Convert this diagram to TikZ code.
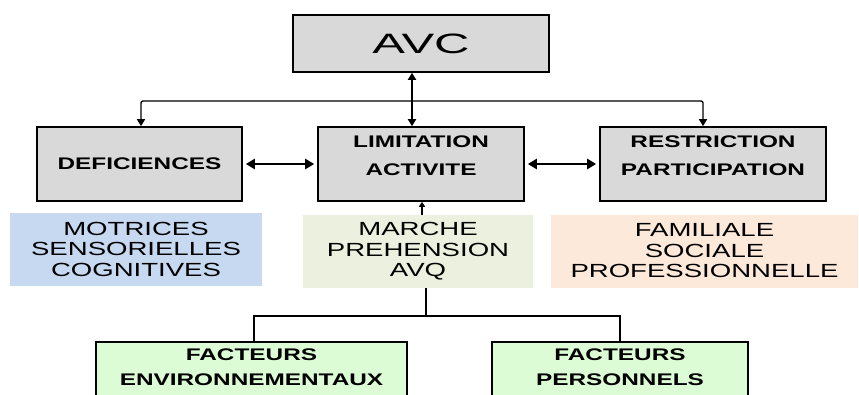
\documentclass[tikz,border=0pt]{standalone}
\usepackage{fontspec}
\setmainfont{Liberation Sans}[FakeStretch=1.45]
\newfontfamily\widefont{Liberation Sans}[FakeStretch=1.75]
\usepackage{tikz}
\usetikzlibrary{arrows.meta}
\usepackage{xcolor}
\definecolor{boxgray}{HTML}{D9D9D9}
\definecolor{softblue}{HTML}{C6D9F1}
\definecolor{softgreen}{HTML}{EBF1DE}
\definecolor{softpeach}{HTML}{FDE9D9}
\definecolor{factgreen}{HTML}{DCFCD6}

\begin{document}
\begin{tikzpicture}
    [   x=1pt, y=-1pt
    ,   grey/.style=
        {   draw
        ,   line width=1.6pt
        ,   fill=boxgray
        ,   minimum height=74pt
        ,   align=center
        ,   font=\fontsize{16.8}{28}\selectfont\bfseries
        }
    ,   soft/.style=
        {   align=center
        ,   minimum height=73pt
        ,   font=\fontsize{19}{20.5}\selectfont
        }
    ,   factor/.style=
        {   draw
        ,   line width=1.6pt
        ,   fill=factgreen
        ,   anchor=north
        ,   align=center
        ,   inner ysep=7pt
        ,   text depth=20pt
        ,   font=\fontsize{16.8}{25}\selectfont\bfseries
        }
    ,   >={Triangle[length=7pt,width=8pt]}
    ,   big/.style=
        {   <->
        ,   line width=2.8pt
        ,   >={Triangle[length=9pt,width=10pt]}
        ,   shorten <=3pt
        ,   shorten >=3pt
        }
    ]
    \useasboundingbox (0,0) rectangle (859,394);
    \clip (0,0) rectangle (859,394);

    % top level
    \node[grey, minimum width=256pt, minimum height=57pt, font=\widefont\fontsize{28}{30}\selectfont]
        (AVC) at (421,43.5) {AVC};

    % grey boxes
    \node[grey, minimum width=205pt] (DEF) at (139.5,164) {DEFICIENCES};
    \node[grey, minimum width=206pt, text depth=16pt] (LIM) at (421,164) {LIMITATION\\ACTIVITE};
    \node[grey, minimum width=226pt, text depth=16pt] (RES) at (713,164) {RESTRICTION\\PARTICIPATION};

    % coloured lists
    \node[soft, fill=softblue, minimum width=252pt] (MOT) at (136,249) {MOTRICES\\SENSORIELLES\\COGNITIVES};
    \node[soft, fill=softgreen, minimum width=230pt] (MAR) at (418,251.5) {MARCHE\\PREHENSION\\AVQ};
    \node[soft, fill=softpeach, minimum width=307pt] (FAM) at (704.5,251) {FAMILIALE\\SOCIALE\\PROFESSIONNELLE};

    % factors
    \node[factor, minimum width=311pt] (ENV) at (251.5,341) {FACTEURS\\ENVIRONNEMENTAUX};
    \node[factor, minimum width=256pt] (PERS) at (620,341) {FACTEURS\\PERSONNELS};

    % connectors
    \coordinate (bus) at (412,101);
    \coordinate (busL) at (141,101);
    \coordinate (busR) at (703,101);
    \draw[<->, line width=2pt] (AVC.south -| bus) -- (LIM.north -| bus);
    \draw[->, line width=1.4pt, rounded corners=2pt] (bus) -| (busL |- DEF.north);
    \draw[->, line width=1.4pt, rounded corners=2pt] (bus) -| (busR |- RES.north);
    \draw[big] (DEF.east) -- (LIM.west);
    \draw[big] (LIM.east) -- (RES.west);
    \draw[->, line width=1.3pt, >={Triangle[length=5pt,width=6pt]}]
        (MAR.north -| 422,0) -- (LIM.south -| 422,0);
    \coordinate (fork) at (426,316);
    \draw[line width=1.4pt] (MAR.south -| fork) -- (fork);
    \draw[line width=1.4pt] (ENV.north -| 254,0) |- (fork) -| (PERS.north);
\end{tikzpicture}
\end{document}
